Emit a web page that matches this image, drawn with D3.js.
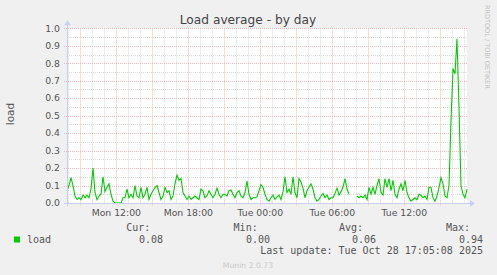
<!DOCTYPE html>
<html><head><meta charset="utf-8">
<script src="https://cdn.jsdelivr.net/npm/d3@7"></script>
<style>html,body{margin:0;padding:0;background:#f0f0f0;}svg{display:block;}</style>
</head><body><div id="chart"></div>
<script>
// ---- data ----
const title = "Load average - by day";
const seriesName = "load";
const startTime = Date.UTC(2025, 9, 27, 7, 53, 20); // Mon Oct 27 07:53:20
const endTime = Date.UTC(2025, 9, 28, 17, 13, 20);  // Tue Oct 28 17:13:20
const stepMinutes = 10;
const loadValues = [
  0.07,0.10,0.145,0.10,0.04,0.02,0.03,0.02,0.045,0.03,
  0.045,0.03,0.08,0.20,0.06,0.02,0.04,0.05,0.15,0.065,
  0.09,0.11,0.05,0.01,0,0,0,0,0.03,0.03,
  0.08,0.03,0.05,0.03,0.10,0.04,0.03,0.09,0.03,0.05,
  0.09,0.02,0.05,0.07,0.09,0.10,0.06,0.02,0.04,0.09,
  0.06,0.07,0.02,0.04,0.11,0.16,0.13,0.14,0.06,0.04,
  0.02,0.04,0.02,0.03,0.04,0.03,0.02,0.08,0.07,0.03,
  0.04,0.07,0.05,0.03,0.05,0.085,0.05,0.03,0.05,0.05,
  0.04,0.07,0.075,0.05,0.03,0.06,0.07,0.04,0.03,0.06,
  0.125,0.05,0.02,0.03,0.03,0.035,0.07,0.105,0.09,0.05,
  0.02,0.01,0.03,0.045,0.02,0.035,0.045,0.02,0.065,0.15,
  0.06,0.08,0.05,0.15,0.06,0.03,0.14,0.12,0.085,0.03,
  0.07,0.09,0.11,0.08,0.03,0.01,0.02,0.04,0.055,0.03,
  0.045,0.02,0.03,0.03,0.055,0.085,0.045,0.065,0.09,0.14,
  0.08,0.05,null,null,null,0.04,0.03,0.04,0.03,0.045,
  0.02,0.09,0.05,0.09,0.05,0.10,0.14,0.06,0.045,0.14,
  0.09,0.14,0.07,0.13,0.05,0.03,0.08,0.11,0.07,0.13,
  0.06,0.03,0.01,0.02,0.03,0.02,0.05,0.045,0.03,0.04,
  0.02,0.09,0.09,0.03,0.01,0.04,0.09,0.145,0.11,0.04,
  0.03,0.10,0.47,0.77,0.74,0.94,0.55,0.10,0.05,0.03,
  0.08
];
const yTicks = [0,0.1,0.2,0.3,0.4,0.5,0.6,0.7,0.8,0.9,1.0];
const legendHeaders = ["Cur:","Min:","Avg:","Max:"];
const legendValues = ["0.08","0.00","0.06","0.94"];
const lastUpdate = "Last update: Tue Oct 28 17:05:08 2025";
const footer = "Munin 2.0.73";
const watermark = "RRDTOOL / TOBI OETIKER";

// ---- layout ----
const W = 497, H = 275;
const L = 67, R = 467, T = 28.3, B = 203;
const svg = d3.select("#chart").append("svg").attr("width", W).attr("height", H);
svg.append("rect").attr("width", W).attr("height", H).attr("fill", "#f0f0f0");
svg.append("rect").attr("x", L).attr("y", T).attr("width", R - L).attr("height", B - T).attr("fill", "#ffffff");

const x = d3.scaleUtc().domain([startTime, endTime]).range([L, R]);
const y = d3.scaleLinear().domain([0, 1]).range([B, T]);
const sans = "DejaVu Sans, sans-serif", mono = "DejaVu Sans Mono, monospace";
const minorCol = "#dadada", majorCol = "#f5b8b8";

// grid: minor horizontal every 0.05
const g = svg.append("g");
const minorY = d3.range(0, 1.0001, 0.05).filter(v => Math.round(v * 20) % 2 === 1);
g.selectAll(".hmin").data(minorY).join("line")
  .attr("x1", L).attr("x2", R).attr("y1", d => Math.round(y(d)) + 0.5).attr("y2", d => Math.round(y(d)) + 0.5)
  .attr("stroke", minorCol).attr("stroke-dasharray", "1,1");
// vertical minor (hourly)
const hours = d3.utcHour.every(1).range(new Date(startTime), new Date(endTime));
g.selectAll(".vmin").data(hours.filter(d => d.getUTCHours() % 3 !== 0)).join("line")
  .attr("x1", d => Math.round(x(d)) + 0.5).attr("x2", d => Math.round(x(d)) + 0.5).attr("y1", T).attr("y2", B)
  .attr("stroke", minorCol).attr("stroke-dasharray", "1,1");
// major
g.selectAll(".hmaj").data(yTicks.filter(v => v > 0)).join("line")
  .attr("x1", L - 3).attr("x2", R).attr("y1", d => Math.round(y(d)) + 0.5).attr("y2", d => Math.round(y(d)) + 0.5)
  .attr("stroke", majorCol).attr("stroke-dasharray", "1,1");
const majX = hours.filter(d => d.getUTCHours() % 3 === 0);
g.selectAll(".vmaj").data(majX).join("line")
  .attr("x1", d => Math.round(x(d)) + 0.5).attr("x2", d => Math.round(x(d)) + 0.5).attr("y1", T).attr("y2", B + 3)
  .attr("stroke", majorCol).attr("stroke-dasharray", "1,1");

// data line
const pts = loadValues.map((v, i) => ({t: startTime + i * stepMinutes * 60000, v}));
const line = d3.line().defined(d => d.v !== null).x(d => x(d.t)).y(d => y(d.v));
svg.append("path").datum(pts).attr("d", line).attr("fill", "none")
  .attr("stroke", "#00cc00").attr("stroke-width", 1.1);

// axes
const axisCol = "#c9cff2";
svg.append("line").attr("x1", L - 3).attr("x2", R + 3).attr("y1", B + 0.5).attr("y2", B + 0.5).attr("stroke", axisCol);
svg.append("line").attr("x1", L + 0.5).attr("x2", L + 0.5).attr("y1", B + 3).attr("y2", T - 4).attr("stroke", axisCol);
svg.append("path").attr("d", `M${R + 3},${B - 3} L${R + 8},${B + 0.5} L${R + 3},${B + 4} Z`).attr("fill", axisCol);
svg.append("path").attr("d", `M${L - 3},${T - 3} L${L + 0.5},${T - 8} L${L + 4},${T - 3} Z`).attr("fill", axisCol);

// y tick labels
svg.selectAll(".ylab").data(yTicks).join("text")
  .attr("x", 60).attr("y", d => y(d) + 3.3).attr("text-anchor", "end")
  .attr("font-family", sans).attr("font-size", 9.3).attr("fill", "#555")
  .text(d => d.toFixed(1));
// x tick labels
const fmt = d3.utcFormat("%a %H:%M");
svg.selectAll(".xlab").data(hours.filter(d => d.getUTCHours() % 6 === 0)).join("text")
  .attr("x", d => x(d)).attr("y", 216).attr("text-anchor", "middle")
  .attr("font-family", sans).attr("font-size", 9.3).attr("fill", "#555")
  .text(d => fmt(d));

// title
svg.append("text").attr("x", 248).attr("y", 24).attr("text-anchor", "middle")
  .attr("font-family", sans).attr("font-size", 12.2).attr("fill", "#444").text(title);
// y label
svg.append("text").attr("transform", "translate(14,114) rotate(-90)").attr("text-anchor", "middle")
  .attr("font-family", sans).attr("font-size", 10.5).attr("fill", "#555").text(seriesName);
// watermark
svg.append("text").attr("transform", "translate(485,5) rotate(90)").attr("text-anchor", "start")
  .attr("font-family", sans).attr("font-size", 6.5).attr("fill", "#c0c0c0").text(watermark);

// legend
const hdrX = [150.3, 257.7, 363, 470];
const valX = [163, 270, 376, 483];
svg.selectAll(".lh").data(legendHeaders).join("text")
  .attr("x", (d, i) => hdrX[i]).attr("y", 231).attr("text-anchor", "end")
  .attr("font-family", mono).attr("font-size", 10).attr("fill", "#555").text(d => d);
svg.selectAll(".lv").data(legendValues).join("text")
  .attr("x", (d, i) => valX[i]).attr("y", 242.5).attr("text-anchor", "end")
  .attr("font-family", mono).attr("font-size", 10).attr("fill", "#555").text(d => d);
svg.append("rect").attr("x", 14).attr("y", 236.5).attr("width", 6).attr("height", 6).attr("fill", "#00cc00");
svg.append("text").attr("x", 27).attr("y", 242.5).attr("font-family", mono).attr("font-size", 10)
  .attr("fill", "#555").text(seriesName);
svg.append("text").attr("x", 483).attr("y", 254).attr("text-anchor", "end")
  .attr("font-family", mono).attr("font-size", 10).attr("fill", "#555").text(lastUpdate);
svg.append("text").attr("x", 248).attr("y", 268).attr("text-anchor", "middle")
  .attr("font-family", sans).attr("font-size", 7.7).attr("fill", "#c8c8c8").text(footer);
</script></body></html>
